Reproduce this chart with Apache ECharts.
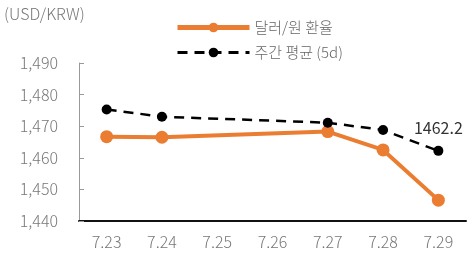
<!DOCTYPE html>
<html>
<head>
<meta charset="utf-8">
<script src="https://cdn.jsdelivr.net/npm/echarts@6/dist/echarts.min.js"></script>
<style>
  html, body { margin: 0; padding: 0; background: #fff; }
  #chart { width: 473px; height: 258px; }
</style>
</head>
<body>
<div id="chart"></div>
<script>
  // 날짜 (categories)
  var days = ['7.23', '7.24', '7.25', '7.26', '7.27', '7.28', '7.29'];
  // 달러/원 환율
  var fxRate = [1466.7, 1466.5, null, null, 1468.3, 1462.5, 1446.6];
  // 주간 평균 (5d)
  var weekAvg = [1475.3, 1473.0, null, null, 1471.1, 1468.8, 1462.2];
  var yTicks = { min: 1440, max: 1490, step: 10 };

  var font = '"Noto Sans CJK KR", "Noto Sans", sans-serif';
  var chart = echarts.init(document.getElementById('chart'));

  chart.setOption({
    animation: false,
    textStyle: { fontFamily: font },
    grid: { left: 79, right: 7, top: 63, bottom: 37 },
    graphic: [{
      type: 'text', left: 4, top: 6,
      style: { text: '(USD/KRW)', fontSize: 16, fill: '#777', fontFamily: font, fontWeight: 300 }
    }],
    legend: {
      orient: 'vertical', left: 170, top: 15, itemGap: 10,
      itemWidth: 72, itemHeight: 12,
      textStyle: { fontSize: 15, color: '#666', fontFamily: font, fontWeight: 300 },
      data: [
        { name: '달러/원 환율', lineStyle: { width: 5 } },
        { name: '주간 평균 (5d)', lineStyle: { width: 3 } }
      ]
    },
    xAxis: {
      type: 'category', data: days, boundaryGap: true,
      axisLine: { lineStyle: { color: '#111', width: 2 } },
      axisTick: { inside: true, length: 6, lineStyle: { color: '#111', width: 2 } },
      axisLabel: { color: '#777', fontSize: 16, margin: 13, fontWeight: 300 }
    },
    yAxis: {
      type: 'value', min: yTicks.min, max: yTicks.max, interval: yTicks.step,
      axisLine: { show: true, lineStyle: { color: '#999', width: 1 } },
      axisTick: { show: true, inside: true, length: 5, lineStyle: { color: '#999' } },
      splitLine: { show: false },
      axisLabel: {
        color: '#777', fontSize: 16, margin: 21, fontWeight: 300,
        formatter: function (v) { return v.toLocaleString('en-US'); }
      }
    },
    series: [{
      name: '달러/원 환율', type: 'line', data: fxRate, connectNulls: true,
      symbol: 'circle', symbolSize: 13,
      itemStyle: { color: '#EB7D32' },
      lineStyle: { color: '#EB7D32', width: 4 },
      z: 2
    }, {
      name: '주간 평균 (5d)', type: 'line', data: weekAvg, connectNulls: true,
      symbol: 'circle', symbolSize: 10,
      itemStyle: { color: '#000' },
      lineStyle: { color: '#000', width: 2.5, type: [10, 7] },
      label: {
        show: true, position: 'top', distance: 10, fontSize: 16, color: '#333',
        formatter: function (p) { return p.dataIndex === days.length - 1 ? p.value : ''; }
      },
      z: 3
    }]
  });
</script>
</body>
</html>
